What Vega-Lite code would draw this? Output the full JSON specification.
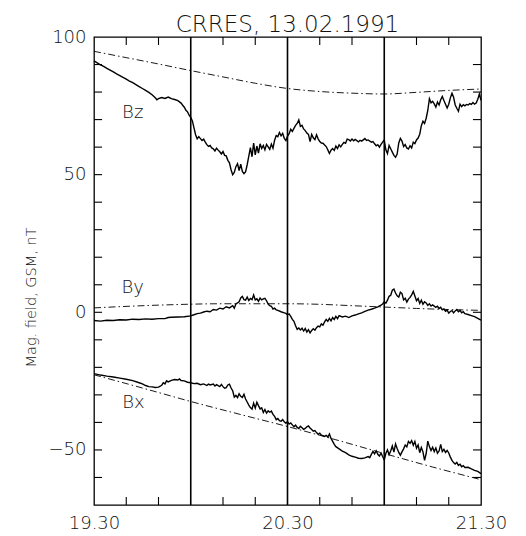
{
  "$schema": "https://vega.github.io/schema/vega-lite/v6.json",
  "autosize": "none",
  "width": 387,
  "height": 468,
  "padding": {"left": 94, "top": 37, "right": 45, "bottom": 31},
  "background": "white",
  "config": {
    "font": "DejaVu Sans",
    "view": {"stroke": "black", "strokeWidth": 1.3},
    "axis": {"domain": false, "ticks": false, "grid": false, "labelColor": "#111", "titleColor": "#111", "labelFontWeight": 200, "titleFontWeight": 200}
  },
  "title": {"text": "CRRES, 13.02.1991", "fontSize": 23, "fontWeight": 200, "color": "#111", "offset": -9},
  "datasets": {
    "measured": [
      {"series":"Bz","minute":0,"nT":91.3},{"series":"Bz","minute":1,"nT":90.6},{"series":"Bz","minute":2,"nT":89.9},{"series":"Bz","minute":3,"nT":89.3},{"series":"Bz","minute":4,"nT":88.6},{"series":"Bz","minute":5,"nT":88.0},{"series":"Bz","minute":6,"nT":87.3},{"series":"Bz","minute":7,"nT":86.6},{"series":"Bz","minute":8,"nT":86.0},{"series":"Bz","minute":9,"nT":85.3},{"series":"Bz","minute":10,"nT":84.7},{"series":"Bz","minute":11,"nT":84.0},{"series":"Bz","minute":12,"nT":83.4},{"series":"Bz","minute":13,"nT":82.7},{"series":"Bz","minute":14,"nT":82.0},{"series":"Bz","minute":15,"nT":81.3},{"series":"Bz","minute":16,"nT":80.6},{"series":"Bz","minute":17,"nT":79.9},{"series":"Bz","minute":18,"nT":79.0},{"series":"Bz","minute":19,"nT":77.9},{"series":"Bz","minute":19.5,"nT":77.2},{"series":"Bz","minute":20,"nT":77.6},{"series":"Bz","minute":21,"nT":78.0},{"series":"Bz","minute":22,"nT":77.7},{"series":"Bz","minute":23,"nT":78.2},{"series":"Bz","minute":24,"nT":77.6},{"series":"Bz","minute":25,"nT":77.3},{"series":"Bz","minute":26,"nT":76.9},{"series":"Bz","minute":27,"nT":76.0},{"series":"Bz","minute":27.5,"nT":75.2},{"series":"Bz","minute":28,"nT":74.5},{"series":"Bz","minute":28.5,"nT":73.4},{"series":"Bz","minute":29,"nT":72.8},{"series":"Bz","minute":29.5,"nT":71.6},{"series":"Bz","minute":30,"nT":70.8},{"series":"Bz","minute":30.5,"nT":69.5},{"series":"Bz","minute":31,"nT":67.0},{"series":"Bz","minute":31.5,"nT":64.5},{"series":"Bz","minute":32,"nT":63.0},{"series":"Bz","minute":32.5,"nT":63.8},{"series":"Bz","minute":33,"nT":63.1},{"series":"Bz","minute":33.5,"nT":62.4},{"series":"Bz","minute":34,"nT":62.9},{"series":"Bz","minute":34.5,"nT":61.8},{"series":"Bz","minute":35,"nT":60.9},{"series":"Bz","minute":35.5,"nT":60.3},{"series":"Bz","minute":36,"nT":60.6},{"series":"Bz","minute":36.5,"nT":59.7},{"series":"Bz","minute":37,"nT":59.4},{"series":"Bz","minute":37.5,"nT":58.6},{"series":"Bz","minute":38,"nT":59.6},{"series":"Bz","minute":38.5,"nT":58.9},{"series":"Bz","minute":39,"nT":58.3},{"series":"Bz","minute":39.5,"nT":57.5},{"series":"Bz","minute":40,"nT":58.4},{"series":"Bz","minute":40.5,"nT":57.0},{"series":"Bz","minute":41,"nT":56.8},{"series":"Bz","minute":41.5,"nT":55.2},{"series":"Bz","minute":42,"nT":54.3},{"series":"Bz","minute":42.5,"nT":51.8},{"series":"Bz","minute":43,"nT":50.0},{"series":"Bz","minute":43.5,"nT":50.8},{"series":"Bz","minute":44,"nT":52.9},{"series":"Bz","minute":44.5,"nT":54.0},{"series":"Bz","minute":45,"nT":51.5},{"series":"Bz","minute":45.5,"nT":53.8},{"series":"Bz","minute":46,"nT":51.2},{"series":"Bz","minute":46.5,"nT":50.4},{"series":"Bz","minute":47,"nT":51.0},{"series":"Bz","minute":47.5,"nT":53.6},{"series":"Bz","minute":48,"nT":56.7},{"series":"Bz","minute":48.5,"nT":59.8},{"series":"Bz","minute":49,"nT":56.5},{"series":"Bz","minute":49.5,"nT":61.5},{"series":"Bz","minute":50,"nT":57.2},{"series":"Bz","minute":50.5,"nT":60.4},{"series":"Bz","minute":51,"nT":57.8},{"series":"Bz","minute":51.5,"nT":61.2},{"series":"Bz","minute":52,"nT":59.5},{"series":"Bz","minute":52.5,"nT":60.6},{"series":"Bz","minute":53,"nT":59.0},{"series":"Bz","minute":53.5,"nT":61.0},{"series":"Bz","minute":54,"nT":60.1},{"series":"Bz","minute":54.5,"nT":59.2},{"series":"Bz","minute":55,"nT":61.1},{"series":"Bz","minute":55.5,"nT":59.6},{"series":"Bz","minute":56,"nT":62.5},{"series":"Bz","minute":56.5,"nT":64.2},{"series":"Bz","minute":57,"nT":63.8},{"series":"Bz","minute":57.5,"nT":65.3},{"series":"Bz","minute":58,"nT":64.1},{"series":"Bz","minute":58.5,"nT":65.0},{"series":"Bz","minute":59,"nT":63.2},{"series":"Bz","minute":59.5,"nT":62.4},{"series":"Bz","minute":60,"nT":63.9},{"series":"Bz","minute":60.5,"nT":64.9},{"series":"Bz","minute":61,"nT":66.5},{"series":"Bz","minute":61.5,"nT":65.7},{"series":"Bz","minute":62,"nT":66.8},{"series":"Bz","minute":62.5,"nT":67.9},{"series":"Bz","minute":63,"nT":68.6},{"series":"Bz","minute":63.5,"nT":69.9},{"series":"Bz","minute":64,"nT":67.5},{"series":"Bz","minute":64.5,"nT":67.9},{"series":"Bz","minute":65,"nT":66.6},{"series":"Bz","minute":65.5,"nT":66.0},{"series":"Bz","minute":66,"nT":65.1},{"series":"Bz","minute":66.5,"nT":64.6},{"series":"Bz","minute":67,"nT":62.0},{"series":"Bz","minute":67.5,"nT":64.6},{"series":"Bz","minute":68,"nT":63.4},{"series":"Bz","minute":68.5,"nT":62.7},{"series":"Bz","minute":69,"nT":64.5},{"series":"Bz","minute":69.5,"nT":63.0},{"series":"Bz","minute":70,"nT":62.0},{"series":"Bz","minute":70.5,"nT":61.5},{"series":"Bz","minute":71,"nT":61.4},{"series":"Bz","minute":71.5,"nT":60.8},{"series":"Bz","minute":72,"nT":60.2},{"series":"Bz","minute":72.5,"nT":59.0},{"series":"Bz","minute":73,"nT":57.7},{"series":"Bz","minute":73.5,"nT":58.9},{"series":"Bz","minute":74,"nT":59.5},{"series":"Bz","minute":74.5,"nT":58.8},{"series":"Bz","minute":75,"nT":60.4},{"series":"Bz","minute":75.5,"nT":59.5},{"series":"Bz","minute":76,"nT":60.8},{"series":"Bz","minute":76.5,"nT":60.1},{"series":"Bz","minute":77,"nT":61.0},{"series":"Bz","minute":77.5,"nT":61.7},{"series":"Bz","minute":78,"nT":61.4},{"series":"Bz","minute":78.5,"nT":62.9},{"series":"Bz","minute":79,"nT":62.7},{"series":"Bz","minute":79.5,"nT":62.2},{"series":"Bz","minute":80,"nT":62.9},{"series":"Bz","minute":80.5,"nT":62.3},{"series":"Bz","minute":81,"nT":62.8},{"series":"Bz","minute":82,"nT":61.9},{"series":"Bz","minute":82.5,"nT":62.5},{"series":"Bz","minute":83,"nT":62.2},{"series":"Bz","minute":84,"nT":63.1},{"series":"Bz","minute":84.5,"nT":62.4},{"series":"Bz","minute":85,"nT":62.6},{"series":"Bz","minute":86,"nT":61.8},{"series":"Bz","minute":86.5,"nT":62.0},{"series":"Bz","minute":87,"nT":61.2},{"series":"Bz","minute":87.5,"nT":60.5},{"series":"Bz","minute":88,"nT":60.9},{"series":"Bz","minute":88.5,"nT":60.0},{"series":"Bz","minute":89,"nT":61.0},{"series":"Bz","minute":89.5,"nT":61.8},{"series":"Bz","minute":90,"nT":62.6},{"series":"Bz","minute":90.5,"nT":59.0},{"series":"Bz","minute":91,"nT":57.6},{"series":"Bz","minute":91.5,"nT":60.6},{"series":"Bz","minute":92,"nT":59.4},{"series":"Bz","minute":92.5,"nT":58.2},{"series":"Bz","minute":93,"nT":57.0},{"series":"Bz","minute":93.5,"nT":56.3},{"series":"Bz","minute":94,"nT":57.5},{"series":"Bz","minute":94.5,"nT":61.5},{"series":"Bz","minute":95,"nT":63.2},{"series":"Bz","minute":95.5,"nT":62.2},{"series":"Bz","minute":96,"nT":60.2},{"series":"Bz","minute":96.5,"nT":60.9},{"series":"Bz","minute":97,"nT":59.7},{"series":"Bz","minute":97.5,"nT":59.3},{"series":"Bz","minute":98,"nT":60.5},{"series":"Bz","minute":98.5,"nT":59.7},{"series":"Bz","minute":99,"nT":61.8},{"series":"Bz","minute":99.5,"nT":61.3},{"series":"Bz","minute":100,"nT":62.6},{"series":"Bz","minute":100.5,"nT":63.3},{"series":"Bz","minute":101,"nT":64.7},{"series":"Bz","minute":101.5,"nT":67.8},{"series":"Bz","minute":102,"nT":69.4},{"series":"Bz","minute":102.5,"nT":68.6},{"series":"Bz","minute":103,"nT":70.5},{"series":"Bz","minute":103.5,"nT":73.3},{"series":"Bz","minute":104,"nT":77.6},{"series":"Bz","minute":104.5,"nT":76.1},{"series":"Bz","minute":105,"nT":76.6},{"series":"Bz","minute":105.5,"nT":75.7},{"series":"Bz","minute":106,"nT":74.5},{"series":"Bz","minute":106.5,"nT":76.4},{"series":"Bz","minute":107,"nT":75.3},{"series":"Bz","minute":107.5,"nT":77.2},{"series":"Bz","minute":108,"nT":78.4},{"series":"Bz","minute":108.5,"nT":76.9},{"series":"Bz","minute":109,"nT":75.6},{"series":"Bz","minute":109.5,"nT":74.2},{"series":"Bz","minute":110,"nT":75.6},{"series":"Bz","minute":110.5,"nT":77.9},{"series":"Bz","minute":111,"nT":79.6},{"series":"Bz","minute":111.5,"nT":78.1},{"series":"Bz","minute":112,"nT":75.3},{"series":"Bz","minute":112.5,"nT":74.1},{"series":"Bz","minute":113,"nT":73.0},{"series":"Bz","minute":113.5,"nT":75.6},{"series":"Bz","minute":114,"nT":74.7},{"series":"Bz","minute":114.5,"nT":75.4},{"series":"Bz","minute":115,"nT":75.0},{"series":"Bz","minute":115.5,"nT":75.5},{"series":"Bz","minute":116,"nT":75.3},{"series":"Bz","minute":116.5,"nT":75.8},{"series":"Bz","minute":117,"nT":75.5},{"series":"Bz","minute":117.5,"nT":76.2},{"series":"Bz","minute":118,"nT":75.6},{"series":"Bz","minute":118.5,"nT":76.0},{"series":"Bz","minute":119,"nT":77.4},{"series":"Bz","minute":119.5,"nT":79.3},{"series":"Bz","minute":120,"nT":77.0},
      {"series":"By","minute":0,"nT":-3.0},{"series":"By","minute":2,"nT":-3.2},{"series":"By","minute":4,"nT":-2.9},{"series":"By","minute":6,"nT":-3.0},{"series":"By","minute":8,"nT":-2.7},{"series":"By","minute":10,"nT":-2.8},{"series":"By","minute":12,"nT":-2.5},{"series":"By","minute":14,"nT":-2.6},{"series":"By","minute":16,"nT":-2.4},{"series":"By","minute":18,"nT":-2.5},{"series":"By","minute":20,"nT":-2.3},{"series":"By","minute":22,"nT":-2.3},{"series":"By","minute":23,"nT":-1.9},{"series":"By","minute":24,"nT":-1.8},{"series":"By","minute":26,"nT":-1.7},{"series":"By","minute":28,"nT":-1.6},{"series":"By","minute":30,"nT":-1.3},{"series":"By","minute":31,"nT":-0.9},{"series":"By","minute":32,"nT":-0.5},{"series":"By","minute":33,"nT":-0.3},{"series":"By","minute":34,"nT":0.1},{"series":"By","minute":35,"nT":0.4},{"series":"By","minute":36,"nT":0.2},{"series":"By","minute":37,"nT":1.0},{"series":"By","minute":38,"nT":0.8},{"series":"By","minute":39,"nT":1.5},{"series":"By","minute":40,"nT":1.2},{"series":"By","minute":41,"nT":2.0},{"series":"By","minute":42,"nT":1.6},{"series":"By","minute":43,"nT":2.4},{"series":"By","minute":43.5,"nT":1.5},{"series":"By","minute":44,"nT":3.0},{"series":"By","minute":45,"nT":3.8},{"series":"By","minute":45.5,"nT":5.2},{"series":"By","minute":46,"nT":5.8},{"series":"By","minute":46.5,"nT":4.6},{"series":"By","minute":47,"nT":4.4},{"series":"By","minute":47.5,"nT":5.5},{"series":"By","minute":48,"nT":4.3},{"series":"By","minute":48.5,"nT":5.0},{"series":"By","minute":49,"nT":4.6},{"series":"By","minute":49.5,"nT":6.3},{"series":"By","minute":50,"nT":4.5},{"series":"By","minute":50.5,"nT":4.9},{"series":"By","minute":51,"nT":4.0},{"series":"By","minute":51.5,"nT":5.2},{"series":"By","minute":52,"nT":4.5},{"series":"By","minute":52.5,"nT":4.9},{"series":"By","minute":53,"nT":5.1},{"series":"By","minute":53.5,"nT":4.2},{"series":"By","minute":54,"nT":3.0},{"series":"By","minute":54.5,"nT":2.4},{"series":"By","minute":55,"nT":2.2},{"series":"By","minute":55.5,"nT":1.2},{"series":"By","minute":56,"nT":1.5},{"series":"By","minute":56.5,"nT":0.9},{"series":"By","minute":57,"nT":0.7},{"series":"By","minute":58,"nT":0.2},{"series":"By","minute":59,"nT":-0.2},{"series":"By","minute":59.5,"nT":-0.4},{"series":"By","minute":60,"nT":-0.9},{"series":"By","minute":60.5,"nT":-0.6},{"series":"By","minute":61,"nT":-1.5},{"series":"By","minute":61.5,"nT":-2.6},{"series":"By","minute":62,"nT":-3.3},{"series":"By","minute":62.5,"nT":-4.9},{"series":"By","minute":63,"nT":-6.2},{"series":"By","minute":63.5,"nT":-5.7},{"series":"By","minute":64,"nT":-6.4},{"series":"By","minute":64.5,"nT":-5.8},{"series":"By","minute":65,"nT":-6.8},{"series":"By","minute":65.5,"nT":-5.9},{"series":"By","minute":66,"nT":-7.2},{"series":"By","minute":66.5,"nT":-6.3},{"series":"By","minute":67,"nT":-7.5},{"series":"By","minute":67.5,"nT":-6.6},{"series":"By","minute":68,"nT":-6.0},{"series":"By","minute":68.5,"nT":-6.5},{"series":"By","minute":69,"nT":-5.6},{"series":"By","minute":69.5,"nT":-5.0},{"series":"By","minute":70,"nT":-5.3},{"series":"By","minute":70.5,"nT":-4.2},{"series":"By","minute":71,"nT":-4.7},{"series":"By","minute":71.5,"nT":-3.5},{"series":"By","minute":72,"nT":-2.6},{"series":"By","minute":72.5,"nT":-3.3},{"series":"By","minute":73,"nT":-2.2},{"series":"By","minute":73.5,"nT":-3.1},{"series":"By","minute":74,"nT":-1.9},{"series":"By","minute":74.5,"nT":-2.6},{"series":"By","minute":75,"nT":-1.5},{"series":"By","minute":75.5,"nT":-2.3},{"series":"By","minute":76,"nT":-1.2},{"series":"By","minute":77,"nT":-1.7},{"series":"By","minute":78,"nT":-1.4},{"series":"By","minute":79,"nT":-1.9},{"series":"By","minute":80,"nT":-1.3},{"series":"By","minute":81,"nT":-1.0},{"series":"By","minute":82,"nT":-0.6},{"series":"By","minute":83,"nT":-0.2},{"series":"By","minute":84,"nT":0.3},{"series":"By","minute":85,"nT":0.8},{"series":"By","minute":86,"nT":1.1},{"series":"By","minute":87,"nT":1.5},{"series":"By","minute":88,"nT":2.0},{"series":"By","minute":89,"nT":2.6},{"series":"By","minute":89.5,"nT":3.0},{"series":"By","minute":90,"nT":3.8},{"series":"By","minute":90.5,"nT":3.3},{"series":"By","minute":91,"nT":4.4},{"series":"By","minute":91.5,"nT":5.8},{"series":"By","minute":92,"nT":6.2},{"series":"By","minute":92.5,"nT":8.0},{"series":"By","minute":93,"nT":8.4},{"series":"By","minute":93.5,"nT":7.0},{"series":"By","minute":94,"nT":6.0},{"series":"By","minute":94.5,"nT":5.5},{"series":"By","minute":95,"nT":7.3},{"series":"By","minute":95.5,"nT":6.8},{"series":"By","minute":96,"nT":4.5},{"series":"By","minute":96.5,"nT":5.1},{"series":"By","minute":97,"nT":3.7},{"series":"By","minute":97.5,"nT":4.8},{"series":"By","minute":98,"nT":5.4},{"series":"By","minute":98.5,"nT":6.3},{"series":"By","minute":99,"nT":7.6},{"series":"By","minute":99.5,"nT":5.9},{"series":"By","minute":100,"nT":4.2},{"series":"By","minute":100.5,"nT":5.0},{"series":"By","minute":101,"nT":3.2},{"series":"By","minute":101.5,"nT":4.4},{"series":"By","minute":102,"nT":2.9},{"series":"By","minute":102.5,"nT":3.8},{"series":"By","minute":103,"nT":3.4},{"series":"By","minute":103.5,"nT":2.5},{"series":"By","minute":104,"nT":3.1},{"series":"By","minute":104.5,"nT":2.3},{"series":"By","minute":105,"nT":2.7},{"series":"By","minute":106,"nT":1.8},{"series":"By","minute":106.5,"nT":2.2},{"series":"By","minute":107,"nT":1.4},{"series":"By","minute":107.5,"nT":1.8},{"series":"By","minute":108,"nT":0.9},{"series":"By","minute":108.5,"nT":1.2},{"series":"By","minute":109,"nT":0.4},{"series":"By","minute":109.5,"nT":0.8},{"series":"By","minute":110,"nT":-0.3},{"series":"By","minute":110.5,"nT":0.3},{"series":"By","minute":111,"nT":0.6},{"series":"By","minute":111.5,"nT":-0.2},{"series":"By","minute":112,"nT":0.5},{"series":"By","minute":112.5,"nT":1.0},{"series":"By","minute":113,"nT":0.2},{"series":"By","minute":113.5,"nT":0.7},{"series":"By","minute":114,"nT":-0.2},{"series":"By","minute":114.5,"nT":0.2},{"series":"By","minute":115,"nT":-0.5},{"series":"By","minute":116,"nT":-0.8},{"series":"By","minute":117,"nT":-1.2},{"series":"By","minute":118,"nT":-1.6},{"series":"By","minute":119,"nT":-2.2},{"series":"By","minute":120,"nT":-2.8},
      {"series":"Bx","minute":0,"nT":-22.3},{"series":"Bx","minute":2,"nT":-22.8},{"series":"Bx","minute":4,"nT":-23.2},{"series":"Bx","minute":6,"nT":-23.5},{"series":"Bx","minute":8,"nT":-23.9},{"series":"Bx","minute":10,"nT":-24.3},{"series":"Bx","minute":12,"nT":-24.8},{"series":"Bx","minute":14,"nT":-25.6},{"series":"Bx","minute":15,"nT":-26.0},{"series":"Bx","minute":16,"nT":-26.6},{"series":"Bx","minute":17,"nT":-27.0},{"series":"Bx","minute":18,"nT":-27.1},{"series":"Bx","minute":19,"nT":-27.3},{"series":"Bx","minute":20,"nT":-27.2},{"series":"Bx","minute":21,"nT":-26.5},{"series":"Bx","minute":21.5,"nT":-25.6},{"series":"Bx","minute":22,"nT":-26.0},{"series":"Bx","minute":22.5,"nT":-24.9},{"series":"Bx","minute":23,"nT":-25.3},{"series":"Bx","minute":24,"nT":-24.7},{"series":"Bx","minute":25,"nT":-24.4},{"series":"Bx","minute":26,"nT":-24.6},{"series":"Bx","minute":26.5,"nT":-24.2},{"series":"Bx","minute":27,"nT":-24.8},{"series":"Bx","minute":28,"nT":-24.9},{"series":"Bx","minute":29,"nT":-25.4},{"series":"Bx","minute":30,"nT":-25.6},{"series":"Bx","minute":31,"nT":-25.9},{"series":"Bx","minute":32,"nT":-25.8},{"series":"Bx","minute":33,"nT":-26.3},{"series":"Bx","minute":34,"nT":-26.0},{"series":"Bx","minute":35,"nT":-26.6},{"series":"Bx","minute":35.5,"nT":-26.1},{"series":"Bx","minute":36,"nT":-26.4},{"series":"Bx","minute":37,"nT":-26.1},{"series":"Bx","minute":37.5,"nT":-26.8},{"series":"Bx","minute":38,"nT":-26.3},{"series":"Bx","minute":39,"nT":-27.0},{"series":"Bx","minute":39.5,"nT":-26.2},{"series":"Bx","minute":40,"nT":-27.0},{"series":"Bx","minute":40.5,"nT":-27.6},{"series":"Bx","minute":41,"nT":-27.4},{"series":"Bx","minute":41.5,"nT":-26.4},{"series":"Bx","minute":42,"nT":-26.1},{"series":"Bx","minute":42.5,"nT":-27.5},{"series":"Bx","minute":43,"nT":-28.5},{"series":"Bx","minute":43.5,"nT":-30.8},{"series":"Bx","minute":44,"nT":-30.2},{"series":"Bx","minute":44.5,"nT":-31.0},{"series":"Bx","minute":45,"nT":-29.6},{"series":"Bx","minute":45.5,"nT":-30.5},{"series":"Bx","minute":46,"nT":-30.9},{"series":"Bx","minute":46.5,"nT":-29.8},{"series":"Bx","minute":47,"nT":-31.5},{"series":"Bx","minute":47.5,"nT":-32.6},{"series":"Bx","minute":48,"nT":-33.7},{"series":"Bx","minute":48.5,"nT":-34.6},{"series":"Bx","minute":49,"nT":-35.2},{"series":"Bx","minute":49.5,"nT":-33.0},{"series":"Bx","minute":50,"nT":-34.8},{"series":"Bx","minute":50.5,"nT":-32.7},{"series":"Bx","minute":51,"nT":-33.9},{"series":"Bx","minute":51.5,"nT":-35.1},{"series":"Bx","minute":52,"nT":-34.7},{"series":"Bx","minute":52.5,"nT":-36.4},{"series":"Bx","minute":53,"nT":-35.3},{"series":"Bx","minute":53.5,"nT":-36.6},{"series":"Bx","minute":54,"nT":-35.8},{"series":"Bx","minute":54.5,"nT":-36.3},{"series":"Bx","minute":55,"nT":-35.9},{"series":"Bx","minute":55.5,"nT":-37.1},{"series":"Bx","minute":56,"nT":-37.8},{"series":"Bx","minute":56.5,"nT":-39.0},{"series":"Bx","minute":57,"nT":-38.6},{"series":"Bx","minute":57.5,"nT":-39.4},{"series":"Bx","minute":58,"nT":-39.6},{"series":"Bx","minute":58.5,"nT":-39.0},{"series":"Bx","minute":59,"nT":-39.8},{"series":"Bx","minute":59.5,"nT":-40.3},{"series":"Bx","minute":60,"nT":-39.7},{"series":"Bx","minute":60.5,"nT":-40.6},{"series":"Bx","minute":61,"nT":-40.2},{"series":"Bx","minute":61.5,"nT":-40.9},{"series":"Bx","minute":62,"nT":-41.6},{"series":"Bx","minute":62.5,"nT":-41.0},{"series":"Bx","minute":63,"nT":-41.8},{"series":"Bx","minute":63.5,"nT":-42.2},{"series":"Bx","minute":64,"nT":-41.4},{"series":"Bx","minute":64.5,"nT":-41.9},{"series":"Bx","minute":65,"nT":-42.5},{"series":"Bx","minute":65.5,"nT":-42.2},{"series":"Bx","minute":66,"nT":-41.6},{"series":"Bx","minute":66.5,"nT":-41.3},{"series":"Bx","minute":67,"nT":-42.0},{"series":"Bx","minute":67.5,"nT":-42.6},{"series":"Bx","minute":68,"nT":-43.2},{"series":"Bx","minute":68.5,"nT":-43.0},{"series":"Bx","minute":69,"nT":-43.7},{"series":"Bx","minute":69.5,"nT":-44.3},{"series":"Bx","minute":70,"nT":-43.9},{"series":"Bx","minute":70.5,"nT":-44.6},{"series":"Bx","minute":71,"nT":-44.8},{"series":"Bx","minute":71.5,"nT":-45.1},{"series":"Bx","minute":72,"nT":-44.7},{"series":"Bx","minute":72.5,"nT":-45.3},{"series":"Bx","minute":73,"nT":-44.2},{"series":"Bx","minute":73.5,"nT":-45.8},{"series":"Bx","minute":74,"nT":-46.9},{"series":"Bx","minute":74.5,"nT":-48.0},{"series":"Bx","minute":75,"nT":-48.8},{"series":"Bx","minute":76,"nT":-49.6},{"series":"Bx","minute":77,"nT":-50.4},{"series":"Bx","minute":78,"nT":-51.0},{"series":"Bx","minute":79,"nT":-51.8},{"series":"Bx","minute":80,"nT":-52.3},{"series":"Bx","minute":81,"nT":-52.6},{"series":"Bx","minute":82,"nT":-53.0},{"series":"Bx","minute":83,"nT":-53.1},{"series":"Bx","minute":84,"nT":-52.9},{"series":"Bx","minute":85,"nT":-52.4},{"series":"Bx","minute":85.5,"nT":-52.8},{"series":"Bx","minute":86,"nT":-51.6},{"series":"Bx","minute":86.5,"nT":-50.5},{"series":"Bx","minute":87,"nT":-51.4},{"series":"Bx","minute":87.5,"nT":-50.3},{"series":"Bx","minute":88,"nT":-51.6},{"series":"Bx","minute":88.5,"nT":-52.2},{"series":"Bx","minute":89,"nT":-51.1},{"series":"Bx","minute":89.5,"nT":-52.4},{"series":"Bx","minute":90,"nT":-53.6},{"series":"Bx","minute":90.5,"nT":-51.2},{"series":"Bx","minute":91,"nT":-50.0},{"series":"Bx","minute":91.5,"nT":-51.7},{"series":"Bx","minute":92,"nT":-50.4},{"series":"Bx","minute":92.5,"nT":-48.6},{"series":"Bx","minute":93,"nT":-50.8},{"series":"Bx","minute":93.5,"nT":-47.8},{"series":"Bx","minute":94,"nT":-49.5},{"series":"Bx","minute":94.5,"nT":-50.9},{"series":"Bx","minute":95,"nT":-51.9},{"series":"Bx","minute":95.5,"nT":-50.7},{"series":"Bx","minute":96,"nT":-49.6},{"series":"Bx","minute":96.5,"nT":-48.2},{"series":"Bx","minute":97,"nT":-48.9},{"series":"Bx","minute":97.5,"nT":-46.9},{"series":"Bx","minute":98,"nT":-47.6},{"series":"Bx","minute":98.5,"nT":-46.6},{"series":"Bx","minute":99,"nT":-48.3},{"series":"Bx","minute":99.5,"nT":-46.9},{"series":"Bx","minute":100,"nT":-49.4},{"series":"Bx","minute":100.5,"nT":-48.2},{"series":"Bx","minute":101,"nT":-51.0},{"series":"Bx","minute":101.5,"nT":-49.1},{"series":"Bx","minute":102,"nT":-50.7},{"series":"Bx","minute":102.5,"nT":-53.8},{"series":"Bx","minute":103,"nT":-51.3},{"series":"Bx","minute":103.5,"nT":-46.8},{"series":"Bx","minute":104,"nT":-48.8},{"series":"Bx","minute":104.5,"nT":-50.2},{"series":"Bx","minute":105,"nT":-49.0},{"series":"Bx","minute":105.5,"nT":-50.6},{"series":"Bx","minute":106,"nT":-49.3},{"series":"Bx","minute":106.5,"nT":-51.2},{"series":"Bx","minute":107,"nT":-50.4},{"series":"Bx","minute":107.5,"nT":-48.0},{"series":"Bx","minute":108,"nT":-50.6},{"series":"Bx","minute":108.5,"nT":-49.8},{"series":"Bx","minute":109,"nT":-50.9},{"series":"Bx","minute":109.5,"nT":-50.2},{"series":"Bx","minute":110,"nT":-51.1},{"series":"Bx","minute":110.5,"nT":-52.6},{"series":"Bx","minute":111,"nT":-53.8},{"series":"Bx","minute":111.5,"nT":-54.6},{"series":"Bx","minute":112,"nT":-55.1},{"series":"Bx","minute":112.5,"nT":-54.5},{"series":"Bx","minute":113,"nT":-55.6},{"series":"Bx","minute":113.5,"nT":-55.2},{"series":"Bx","minute":114,"nT":-56.1},{"series":"Bx","minute":114.5,"nT":-55.7},{"series":"Bx","minute":115,"nT":-56.4},{"series":"Bx","minute":116,"nT":-56.3},{"series":"Bx","minute":117,"nT":-56.9},{"series":"Bx","minute":118,"nT":-57.4},{"series":"Bx","minute":119,"nT":-57.8},{"series":"Bx","minute":120,"nT":-58.6}
    ],
    "model": [
      {"series":"Bz","minute":0,"nT":94.8},{"series":"Bz","minute":10,"nT":92.5},{"series":"Bz","minute":20,"nT":90.2},{"series":"Bz","minute":30,"nT":87.8},{"series":"Bz","minute":40,"nT":85.5},{"series":"Bz","minute":50,"nT":83.2},{"series":"Bz","minute":60,"nT":81.3},{"series":"Bz","minute":70,"nT":80.2},{"series":"Bz","minute":80,"nT":79.6},{"series":"Bz","minute":90,"nT":79.3},{"series":"Bz","minute":100,"nT":79.9},{"series":"Bz","minute":110,"nT":80.6},{"series":"Bz","minute":120,"nT":81.1},
      {"series":"By","minute":0,"nT":1.6},{"series":"By","minute":20,"nT":2.6},{"series":"By","minute":40,"nT":3.1},{"series":"By","minute":60,"nT":3.1},{"series":"By","minute":70,"nT":2.9},{"series":"By","minute":80,"nT":2.4},{"series":"By","minute":90,"nT":1.9},{"series":"By","minute":100,"nT":1.4},{"series":"By","minute":110,"nT":1.0},{"series":"By","minute":120,"nT":0.7},
      {"series":"Bx","minute":0,"nT":-22.7},{"series":"Bx","minute":15,"nT":-27.5},{"series":"Bx","minute":30,"nT":-32.4},{"series":"Bx","minute":45,"nT":-37.0},{"series":"Bx","minute":60,"nT":-41.5},{"series":"Bx","minute":75,"nT":-46.3},{"series":"Bx","minute":90,"nT":-51.3},{"series":"Bx","minute":105,"nT":-56.2},{"series":"Bx","minute":120,"nT":-60.8}
    ],
    "markers": [{"minute":30},{"minute":60},{"minute":90}],
    "labels": [{"series":"Bz","minute":12,"nT":72.3},{"series":"By","minute":12,"nT":8.9},{"series":"Bx","minute":12.2,"nT":-33.1}],
    "xticks": [{"minute":10},{"minute":20},{"minute":40},{"minute":50},{"minute":70},{"minute":80},{"minute":100},{"minute":110}],
    "yticks": [{"nT":-60},{"nT":-50},{"nT":-40},{"nT":-30},{"nT":-20},{"nT":-10},{"nT":0},{"nT":10},{"nT":20},{"nT":30},{"nT":40},{"nT":50},{"nT":60},{"nT":70},{"nT":80},{"nT":90}]
  },
  "layer": [
    {
      "data": {"name": "measured"},
      "mark": {"type": "line", "color": "black", "strokeWidth": 1.4},
      "encoding": {
        "x": {"field": "minute", "type": "quantitative", "scale": {"domain": [0, 120], "nice": false, "zero": false},
          "axis": {"orient": "bottom", "title": null, "values": [0,60,120], "labelPadding": 9, "labelFontSize": 18, "labelFlush": false,
            "labelExpr": "datum.value === 0 ? '19.30' : datum.value === 60 ? '20.30' : '21.30'"}},
        "y": {"field": "nT", "type": "quantitative", "scale": {"domain": [-70, 100], "nice": false, "zero": false},
          "axis": {"orient": "left", "title": "Mag. field, GSM, nT", "titleFontSize": 14.5, "titleX": -63, "titleY": 260, "titleAngle": -90, "titleBaseline": "middle", "titleAlign": "center",
            "values": [-50, 0, 50, 100], "labelPadding": 8, "labelFontSize": 18, "labelFlush": false}},
        "detail": {"field": "series", "type": "nominal"}
      }
    },
    {
      "data": {"name": "model"},
      "mark": {"type": "line", "color": "black", "strokeWidth": 0.9, "strokeDash": [7, 3, 1.5, 3], "interpolate": "monotone"},
      "encoding": {
        "x": {"field": "minute", "type": "quantitative"},
        "y": {"field": "nT", "type": "quantitative"},
        "detail": {"field": "series", "type": "nominal"}
      }
    },
    {
      "data": {"name": "markers"},
      "mark": {"type": "rule", "color": "black", "strokeWidth": 1.6},
      "encoding": {"x": {"field": "minute", "type": "quantitative"}}
    },
    {
      "data": {"name": "xticks"},
      "mark": {"type": "rule", "color": "black", "strokeWidth": 1.1},
      "encoding": {"x": {"field": "minute", "type": "quantitative"}, "y": {"datum": -70}, "y2": {"datum": -67.1}}
    },
    {
      "data": {"name": "xticks"},
      "mark": {"type": "rule", "color": "black", "strokeWidth": 1.1},
      "encoding": {"x": {"field": "minute", "type": "quantitative"}, "y": {"datum": 100}, "y2": {"datum": 97.1}}
    },
    {
      "data": {"name": "yticks"},
      "mark": {"type": "rule", "color": "black", "strokeWidth": 1.1},
      "encoding": {"y": {"field": "nT", "type": "quantitative"}, "x": {"datum": 0}, "x2": {"datum": 2.5}}
    },
    {
      "data": {"name": "yticks"},
      "mark": {"type": "rule", "color": "black", "strokeWidth": 1.1},
      "encoding": {"y": {"field": "nT", "type": "quantitative"}, "x": {"datum": 117.5}, "x2": {"datum": 120}}
    },
    {
      "data": {"name": "labels"},
      "mark": {"type": "text", "fontSize": 18, "fontWeight": 200, "color": "#111", "align": "center", "baseline": "middle"},
      "encoding": {
        "x": {"field": "minute", "type": "quantitative"},
        "y": {"field": "nT", "type": "quantitative"},
        "text": {"field": "series", "type": "nominal"}
      }
    }
  ]
}
